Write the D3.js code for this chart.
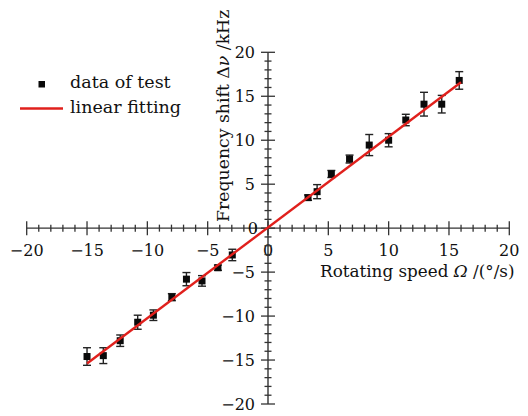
<!DOCTYPE html>
<meta charset="utf-8">
<script src="https://d3js.org/d3.v7.min.js"></script>
<style>
  body { margin: 0; background: #fff; }
  text { font-family: "DejaVu Serif", serif; fill: #111; }
</style>
<body>
<div id="chart"></div>
<script>
// measured points (rotating speed in deg/s, frequency shift in kHz)
var speed = [-15.0, -13.65, -12.25, -10.8, -9.5, -7.97, -6.76, -5.47, -4.15, -2.96,
             3.32, 4.07, 5.25, 6.76, 8.39, 10.0, 11.42, 12.93, 14.4, 15.85];
var shift = [-14.6, -14.5, -12.8, -10.7, -9.9, -7.85, -5.8, -6.0, -4.5, -3.05,
             3.47, 4.15, 6.16, 7.86, 9.45, 10.0, 12.3, 14.1, 14.1, 16.8];
var shiftErr = [1.0, 0.9, 0.65, 0.8, 0.6, 0.4, 0.75, 0.6, 0.3, 0.65,
                0.3, 0.8, 0.4, 0.45, 1.2, 0.75, 0.65, 1.35, 1.0, 1.0];
// end points of the linear fit
var fitX = [-15, 16];
var fitY = [-15.4, 16.6];
var majorTicks = [-20, -15, -10, -5, 0, 5, 10, 15, 20];

var width = 528, height = 416;
var svg = d3.select("#chart").append("svg")
    .attr("width", width).attr("height", height);

var x = d3.scaleLinear().domain([-20, 20]).range([26.7, 509.3]);
var y = d3.scaleLinear().domain([-20, 20]).range([404, 52.3]);

var axisColor = "#333";
var minor = d3.range(-20, 21, 1);

// x axis
var gx = svg.append("g").attr("transform", "translate(0," + y(0) + ")");
gx.append("line").attr("x1", x(-20)).attr("x2", x(20))
    .attr("stroke", axisColor).attr("stroke-width", 1.4);
gx.selectAll(".tk").data(minor).enter().append("line")
    .attr("x1", d => x(d)).attr("x2", d => x(d))
    .attr("y1", d => d % 5 === 0 ? -7 : -3.5)
    .attr("y2", d => d % 5 === 0 ? 7 : 3.5)
    .attr("stroke", axisColor).attr("stroke-width", 1.3);
gx.selectAll(".lb").data(majorTicks).enter().append("text")
    .attr("x", d => x(d)).attr("y", 28)
    .attr("text-anchor", "middle").style("font-size", "16px")
    .text(d => d < 0 ? "\u2212" + Math.abs(d) : d);

// y axis
var gy = svg.append("g").attr("transform", "translate(" + x(0) + ",0)");
gy.append("line").attr("y1", y(-20)).attr("y2", y(20))
    .attr("stroke", axisColor).attr("stroke-width", 1.4);
gy.selectAll(".tk").data(minor).enter().append("line")
    .attr("y1", d => y(d)).attr("y2", d => y(d))
    .attr("x1", d => d % 5 === 0 ? -7 : -3.5)
    .attr("x2", d => d % 5 === 0 ? 7 : 3.5)
    .attr("stroke", axisColor).attr("stroke-width", 1.3);
gy.selectAll(".lb").data(majorTicks).enter().append("text")
    .attr("x", d => d === 0 ? -10 : -13).attr("y", d => y(d))
    .attr("dy", "0.36em")
    .attr("text-anchor", "end").style("font-size", "16px")
    .text(d => d < 0 ? "\u2212" + Math.abs(d) : d);

// axis titles
var xt = svg.append("text").attr("x", 320).attr("y", 277).style("font-size", "16.8px");
xt.append("tspan").text("Rotating speed ");
xt.append("tspan").style("font-style", "italic").text("\u03A9");
xt.append("tspan").text(" /(\u00B0/s)");

var yt = svg.append("text")
    .attr("transform", "translate(228.5,222)rotate(-90)")
    .style("font-size", "17.3px");
yt.append("tspan").text("Frequency shift \u0394");
yt.append("tspan").style("font-style", "italic").text("\u03BD");
yt.append("tspan").text(" /kHz");

// error bars
var pts = speed.map((s, i) => ({x: s, y: shift[i], e: shiftErr[i]}));
var eb = svg.append("g").attr("stroke", "#222").attr("stroke-width", 1.4);
eb.selectAll(".v").data(pts).enter().append("line")
    .attr("x1", d => x(d.x)).attr("x2", d => x(d.x))
    .attr("y1", d => y(d.y - d.e)).attr("y2", d => y(d.y + d.e));
eb.selectAll(".t").data(pts).enter().append("line")
    .attr("x1", d => x(d.x) - 4).attr("x2", d => x(d.x) + 4)
    .attr("y1", d => y(d.y + d.e)).attr("y2", d => y(d.y + d.e));
eb.selectAll(".b").data(pts).enter().append("line")
    .attr("x1", d => x(d.x) - 4).attr("x2", d => x(d.x) + 4)
    .attr("y1", d => y(d.y - d.e)).attr("y2", d => y(d.y - d.e));

// squares
svg.selectAll(".pt").data(pts).enter().append("rect")
    .attr("x", d => x(d.x) - 3.5).attr("y", d => y(d.y) - 3.5)
    .attr("width", 7).attr("height", 7).attr("fill", "#0a0a0a");

// fit line
svg.append("line")
    .attr("x1", x(fitX[0])).attr("y1", y(fitY[0]))
    .attr("x2", x(fitX[1])).attr("y2", y(fitY[1]))
    .attr("stroke", "#e0201c").attr("stroke-width", 2.4);

// legend
svg.append("rect").attr("x", 38.5).attr("y", 81).attr("width", 6.5).attr("height", 6.5)
    .attr("fill", "#0a0a0a");
svg.append("text").attr("x", 70).attr("y", 88.3).style("font-size", "17.5px").text("data of test");
svg.append("line").attr("x1", 20).attr("x2", 63).attr("y1", 108.5).attr("y2", 108.5)
    .attr("stroke", "#e0201c").attr("stroke-width", 2.4);
svg.append("text").attr("x", 70).attr("y", 113.3).style("font-size", "17.5px").text("linear fitting");
</script>
</body>
